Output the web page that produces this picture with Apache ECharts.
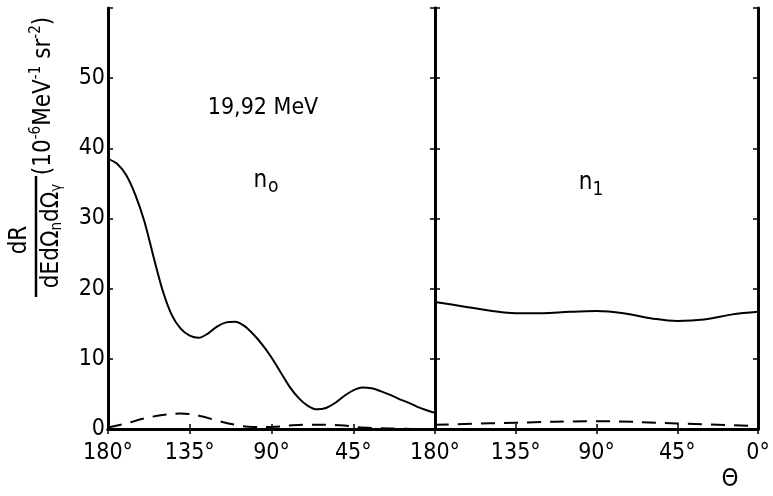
<!DOCTYPE html>
<html>
<head>
<meta charset="utf-8">
<script src="https://cdn.jsdelivr.net/npm/echarts@6/dist/echarts.min.js"></script>
<style>
  html, body { margin: 0; padding: 0; background: #fff; }
  #main { width: 773px; height: 496px; }
</style>
</head>
<body>
<div id="main"></div>
<script>
// angles in degrees
const anglesN0 = [180, 175, 170, 165, 160, 155, 150, 145, 140, 135, 130, 125, 120, 115, 110, 105, 100, 95, 90, 85, 80, 75, 70, 65, 60, 55, 50, 45, 40, 35, 30, 25, 20, 15, 10, 5, 0];
const solidN0 = [38.5, 37.8, 36.2, 33.4, 29.6, 24.6, 19.8, 16.3, 14.3, 13.3, 13.0, 13.6, 14.6, 15.2, 15.3, 14.7, 13.5, 12.0, 10.2, 8.1, 6.0, 4.4, 3.3, 2.8, 3.0, 3.7, 4.7, 5.5, 5.9, 5.8, 5.4, 4.9, 4.3, 3.8, 3.2, 2.7, 2.3];
const dashAnglesN0 = [180, 170, 160, 150, 140, 130, 120, 110, 100, 90, 80, 70, 60, 50, 40, 30, 20, 10, 0];
const dashedN0 = [0.2, 0.8, 1.5, 2.0, 2.2, 1.9, 1.2, 0.6, 0.3, 0.3, 0.5, 0.6, 0.6, 0.5, 0.2, 0.1, 0.05, 0, 0];

const anglesN1 = [180, 165, 150, 135, 120, 105, 90, 75, 60, 45, 30, 15, 0];
const solidN1 = [18.1, 17.5, 16.9, 16.5, 16.5, 16.7, 16.8, 16.5, 15.8, 15.4, 15.6, 16.3, 16.7];
const dashAnglesN1 = [180, 135, 90, 45, 0];
const dashedN1 = [0.6, 0.9, 1.1, 0.8, 0.4];

const yTicks = [0, 10, 20, 30, 40, 50];

function pairs(xs, ys) {
  return xs.map((x, i) => [x, ys[i]]);
}

const font = 'DejaVu Sans Condensed';
const chart = echarts.init(document.getElementById('main'));

function xAxisFor(gridIndex, hideZero) {
  return [{
    type: 'value', gridIndex: gridIndex, min: 0, max: 180, interval: 45, inverse: true,
    axisLine: { lineStyle: { color: '#000', width: 3 } },
    axisTick: { inside: true, length: 5, lineStyle: { color: '#000', width: 1.5 } },
    axisLabel: {
      color: '#000', fontFamily: font, fontSize: 23, margin: 13,
      formatter: v => (hideZero && v === 0) ? '' : v + '°'
    },
    splitLine: { show: false }
  }, {
    type: 'value', gridIndex: gridIndex, position: 'top', min: 0, max: 180, interval: 45, inverse: true,
    axisLine: { lineStyle: { color: '#000', width: 3 } },
    axisTick: { inside: true, length: 5, lineStyle: { color: '#000', width: 1.5 } },
    axisLabel: { show: false },
    splitLine: { show: false }
  }];
}

function yAxisFor(gridIndex, position, showLabels) {
  return {
    type: 'value', gridIndex: gridIndex, position: position, min: 0, max: 60, interval: 10,
    axisLine: { onZero: false, lineStyle: { color: '#000', width: 3 } },
    axisTick: { inside: true, length: 5, lineStyle: { color: '#000', width: 1.5 } },
    axisLabel: {
      show: showLabels, color: '#000', fontFamily: font, fontSize: 23, margin: 3,
      formatter: v => yTicks.indexOf(v) >= 0 ? String(v) : ''
    },
    splitLine: { show: false }
  };
}

const option = {
  backgroundColor: '#fff',
  animation: false,
  grid: [
    { left: 108, right: 338, top: 8, bottom: 67 },
    { left: 435, right: 15, top: 8, bottom: 67 }
  ],
  xAxis: [].concat(xAxisFor(0, true), xAxisFor(1, false)),
  yAxis: [
    yAxisFor(0, 'left', true),
    yAxisFor(0, 'right', false),
    yAxisFor(1, 'left', false),
    yAxisFor(1, 'right', false)
  ],
  series: [
    {
      type: 'line', xAxisIndex: 0, yAxisIndex: 0, data: pairs(anglesN0, solidN0),
      smooth: 0.3, showSymbol: false, lineStyle: { color: '#000', width: 2 }
    },
    {
      type: 'line', xAxisIndex: 0, yAxisIndex: 0, data: pairs(dashAnglesN0, dashedN0),
      smooth: 0.4, showSymbol: false, lineStyle: { color: '#000', width: 2, type: [14, 9] }
    },
    {
      type: 'line', xAxisIndex: 2, yAxisIndex: 2, data: pairs(anglesN1, solidN1),
      smooth: 0.4, showSymbol: false, lineStyle: { color: '#000', width: 2 }
    },
    {
      type: 'line', xAxisIndex: 2, yAxisIndex: 2, data: pairs(dashAnglesN1, dashedN1),
      smooth: 0.4, showSymbol: false, lineStyle: { color: '#000', width: 2, type: [14, 9] }
    }
  ],
  graphic: [
    // y axis title, rotated: dR / dE dΩn dΩγ (10^-6 MeV^-1 sr^-2)
    {
      type: 'text', x: 20, y: 240, rotation: Math.PI / 2,
      style: { text: 'dR', font: '24px ' + font, fill: '#000', align: 'center', verticalAlign: 'middle' }
    },
    {
      type: 'line', shape: { x1: 36, y1: 176, x2: 36, y2: 297 },
      style: { stroke: '#000', lineWidth: 2.5 }
    },
    {
      type: 'text', x: 52, y: 236, rotation: Math.PI / 2,
      style: {
        text: '{a|dEdΩ}{b|n}{a|dΩ}{b|γ}',
        align: 'center', verticalAlign: 'middle', fill: '#000',
        rich: {
          a: { fontFamily: font, fontSize: 24, fill: '#000' },
          b: { fontFamily: font, fontSize: 15, fill: '#000', padding: [10, 0, 0, 0] }
        }
      }
    },
    {
      type: 'text', x: 44, y: 96, rotation: Math.PI / 2,
      style: {
        text: '{a|(10}{s|-6}{a|MeV}{s|-1}{a| sr}{s|-2}{a|)}',
        align: 'center', verticalAlign: 'middle', fill: '#000',
        rich: {
          a: { fontFamily: font, fontSize: 24, fill: '#000' },
          s: { fontFamily: font, fontSize: 15, fill: '#000', padding: [0, 0, 16, 0] }
        }
      }
    },
    {
      type: 'text', x: 263, y: 108,
      style: { text: '19,92 MeV', font: '23px ' + font, fill: '#000', align: 'center', verticalAlign: 'middle' }
    },
    {
      type: 'text', x: 266, y: 181,
      style: {
        text: '{a|n}{b|o}', align: 'center', verticalAlign: 'middle', fill: '#000',
        rich: {
          a: { fontFamily: font, fontSize: 24, fill: '#000' },
          b: { fontFamily: font, fontSize: 19, fill: '#000', padding: [12, 0, 0, 1] }
        }
      }
    },
    {
      type: 'text', x: 591, y: 183,
      style: {
        text: '{a|n}{b|1}', align: 'center', verticalAlign: 'middle', fill: '#000',
        rich: {
          a: { fontFamily: font, fontSize: 24, fill: '#000' },
          b: { fontFamily: font, fontSize: 19, fill: '#000', padding: [14, 0, 0, 0] }
        }
      }
    },
    {
      type: 'text', x: 730, y: 480,
      style: { text: 'Θ', font: '24px ' + font, fill: '#000', align: 'center', verticalAlign: 'middle' }
    }
  ]
};

chart.setOption(option);
</script>
</body>
</html>
